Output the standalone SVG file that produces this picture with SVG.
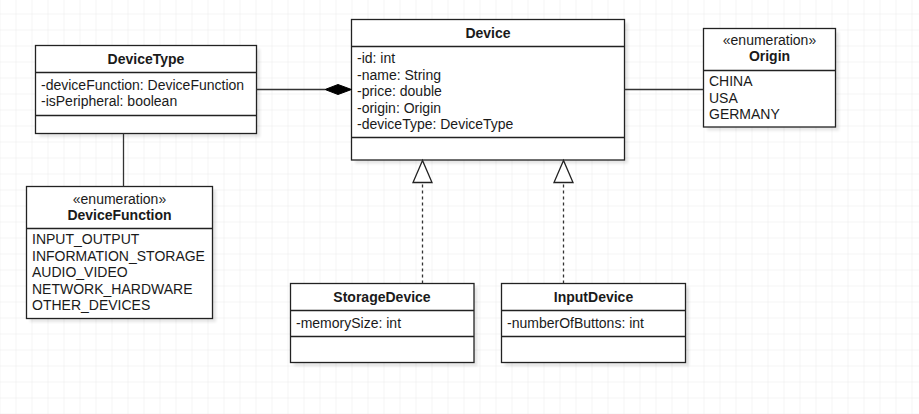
<svg xmlns="http://www.w3.org/2000/svg" width="919" height="414" viewBox="0 0 919 414">
<defs>
<pattern id="grid" x="15.5" y="13.5" width="16" height="16" patternUnits="userSpaceOnUse">
<path d="M0 0H16M0 0V16" fill="none" stroke="#e9e9e9" stroke-width="1"/>
</pattern>
<filter id="sh" x="-10%" y="-10%" width="130%" height="130%">
<feGaussianBlur stdDeviation="1.5"/>
</filter>
</defs>
<style>
.box{fill:#fff;stroke:#222;stroke-width:1.3}
.div{stroke:#222;stroke-width:1.3}
.shadow{fill:#000;opacity:0.1;filter:url(#sh)}
.t{font-family:"Liberation Sans",Arial,sans-serif;font-size:14px;fill:#1a1a1a}
.b{font-weight:bold;text-anchor:middle}
.c{text-anchor:middle}
.ln{fill:none;stroke:#333;stroke-width:1.3}
.dash{fill:none;stroke:#333;stroke-width:1.3;stroke-dasharray:3 3}
</style>
<rect width="919" height="414" fill="#fff"/>
<rect width="919" height="414" fill="url(#grid)"/>

<g id="DeviceType">
<rect class="shadow" x="39" y="49" width="221" height="88"/>
<rect class="box" x="35.5" y="45.5" width="221" height="88"/>
<line class="div" x1="35.5" y1="72.5" x2="256.5" y2="72.5"/>
<line class="div" x1="35.5" y1="115.5" x2="256.5" y2="115.5"/>
<text class="t b" x="146" y="64">DeviceType</text>
<text class="t" x="41" y="89.5">-deviceFunction: DeviceFunction</text>
<text class="t" x="41" y="106">-isPeripheral: boolean</text>
</g>

<g id="Device">
<rect class="shadow" x="355" y="23" width="273" height="140.5"/>
<rect class="box" x="351.5" y="19.5" width="273" height="140.5"/>
<line class="div" x1="351.5" y1="46.5" x2="624.5" y2="46.5"/>
<line class="div" x1="351.5" y1="137.5" x2="624.5" y2="137.5"/>
<text class="t b" x="488" y="38">Device</text>
<text class="t" x="357" y="63">-id: int</text>
<text class="t" x="357" y="79.5">-name: String</text>
<text class="t" x="357" y="96">-price: double</text>
<text class="t" x="357" y="112.5">-origin: Origin</text>
<text class="t" x="357" y="129">-deviceType: DeviceType</text>
</g>

<g id="Origin">
<rect class="shadow" x="707" y="32" width="132" height="98.5"/>
<rect class="box" x="703.5" y="28.5" width="132" height="98.5"/>
<line class="div" x1="703.5" y1="70.5" x2="835.5" y2="70.5"/>
<text class="t c" x="769.5" y="45">«enumeration»</text>
<text class="t b" x="769.5" y="61">Origin</text>
<text class="t" x="709" y="86">CHINA</text>
<text class="t" x="709" y="102.5">USA</text>
<text class="t" x="709" y="119">GERMANY</text>
</g>

<g id="DeviceFunction">
<rect class="shadow" x="30" y="190" width="186" height="132"/>
<rect class="box" x="26.5" y="186.5" width="186" height="132"/>
<line class="div" x1="26.5" y1="228.5" x2="212.5" y2="228.5"/>
<text class="t c" x="119.5" y="204">«enumeration»</text>
<text class="t b" x="119.5" y="219.5">DeviceFunction</text>
<text class="t" x="32" y="244">INPUT_OUTPUT</text>
<text class="t" x="32" y="260.5">INFORMATION_STORAGE</text>
<text class="t" x="32" y="277">AUDIO_VIDEO</text>
<text class="t" x="32" y="293.5">NETWORK_HARDWARE</text>
<text class="t" x="32" y="310">OTHER_DEVICES</text>
</g>

<g id="StorageDevice">
<rect class="shadow" x="294" y="287" width="183.5" height="79"/>
<rect class="box" x="290.5" y="283.5" width="183.5" height="79"/>
<line class="div" x1="290.5" y1="310.5" x2="474" y2="310.5"/>
<line class="div" x1="290.5" y1="336.5" x2="474" y2="336.5"/>
<text class="t b" x="382" y="302">StorageDevice</text>
<text class="t" x="296" y="327.5">-memorySize: int</text>
</g>

<g id="InputDevice">
<rect class="shadow" x="505" y="287" width="184" height="79"/>
<rect class="box" x="501.5" y="283.5" width="184" height="79"/>
<line class="div" x1="501.5" y1="310.5" x2="685.5" y2="310.5"/>
<line class="div" x1="501.5" y1="336.5" x2="685.5" y2="336.5"/>
<text class="t b" x="593.5" y="302">InputDevice</text>
<text class="t" x="507" y="327.5">-numberOfButtons: int</text>
</g>

<g id="connectors">
<line class="ln" x1="256.5" y1="89.5" x2="325" y2="89.5"/>
<polygon points="325,89.5 338,84.5 351.5,89.5 338,94.5" fill="#000" stroke="#000" stroke-width="1"/>
<line class="ln" x1="624.5" y1="89.5" x2="703.5" y2="89.5"/>
<line class="ln" x1="123.5" y1="133.5" x2="123.5" y2="186.5"/>
<line class="dash" x1="422.5" y1="283.5" x2="422.5" y2="182.5"/>
<polygon points="422.5,160.5 413,182.5 432,182.5" fill="#fff" stroke="#222" stroke-width="1.3"/>
<line class="dash" x1="563.5" y1="283.5" x2="563.5" y2="182.5"/>
<polygon points="563.5,160.5 554,182.5 573,182.5" fill="#fff" stroke="#222" stroke-width="1.3"/>
</g>
</svg>
